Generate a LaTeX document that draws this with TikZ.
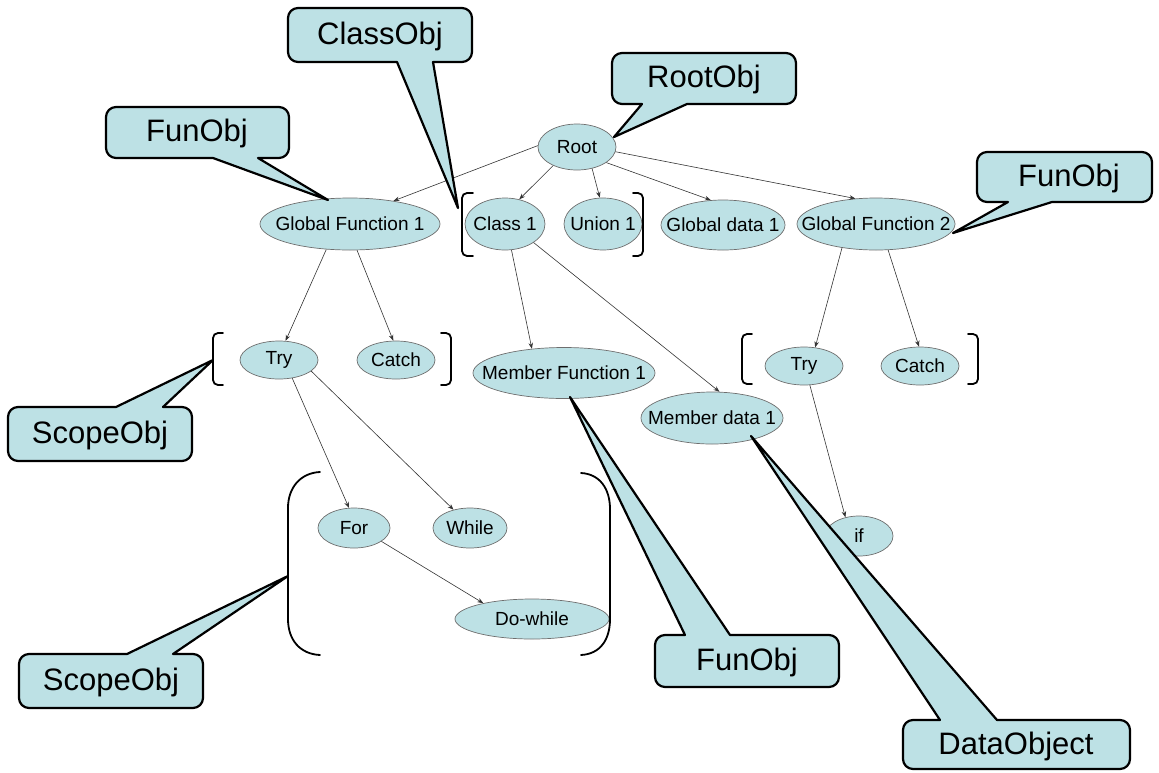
\documentclass[tikz,border=0pt]{standalone}
\usepackage{fontspec}
\setmainfont{Liberation Sans}
\usetikzlibrary{shapes.geometric,arrows.meta}

\definecolor{nodefill}{RGB}{189,225,229}
\definecolor{nodeline}{RGB}{110,110,110}

% label set in a zero-width box, so the ellipse keeps its given size
\newcommand\lbl[1]{\makebox[0pt]{#1}}

% rounded box with a wedge leaving its bottom edge
% #1,#2 top-left  #3,#4 bottom-right  #5,#6 wedge base  #7,#8 wedge tip
\newcommand\bubbledown[8]{%
  \filldraw[bubble] (#1+10,#2) -- (#3-10,#2) arc[start angle=270,end angle=360,radius=10]
    -- (#3,#4-10) arc[start angle=0,end angle=90,radius=10]
    -- (#6,#4) -- (#7,#8) -- (#5,#4)
    -- (#1+10,#4) arc[start angle=90,end angle=180,radius=10]
    -- (#1,#2+10) arc[start angle=180,end angle=270,radius=10] -- cycle;}
% rounded box with a wedge leaving its top edge
\newcommand\bubbleup[8]{%
  \filldraw[bubble] (#1+10,#2) -- (#5,#2) -- (#7,#8) -- (#6,#2)
    -- (#3-10,#2) arc[start angle=270,end angle=360,radius=10]
    -- (#3,#4-10) arc[start angle=0,end angle=90,radius=10]
    -- (#1+10,#4) arc[start angle=90,end angle=180,radius=10]
    -- (#1,#2+10) arc[start angle=180,end angle=270,radius=10] -- cycle;}

\tikzset{
  item/.style={ellipse, fill=nodefill, draw=nodeline, line width=0.7pt,
    inner sep=0pt, font=\fontsize{19}{22}\selectfont},
  bubble/.style={fill=nodefill, draw=black, line width=2.2pt, line join=round},
  bubbletext/.style={inner sep=0pt, font=\fontsize{31}{36}\selectfont},
  link/.style={-{Stealth[length=6pt,width=4.5pt]}, line width=0.6pt, draw=black!80},
  brace/.style={draw=black, line width=1.8pt, line cap=round},
}

\begin{document}
\begin{tikzpicture}[x=1pt,y=-1pt]
\useasboundingbox (0,0) rectangle (1159,772);

% tree nodes
\node[item, minimum width=78pt,  minimum height=46pt] (root)    at (577,147) {\lbl{Root}};
\node[item, minimum width=180pt, minimum height=52pt] (gf1)     at (350,224) {\lbl{Global Function 1}};
\node[item, minimum width=80pt,  minimum height=52pt] (class1)  at (505,224) {\lbl{Class 1}};
\node[item, minimum width=78pt,  minimum height=52pt] (union1)  at (603,224) {\lbl{Union 1}};
\node[item, minimum width=124pt, minimum height=50pt] (gd1)     at (723,225) {\lbl{Global data 1}};
\node[item, minimum width=158pt, minimum height=52pt] (gf2)     at (876,224) {\lbl{Global Function 2}};
\node[item, minimum width=78pt,  minimum height=38pt] (try1)    at (279,360) {\lbl{Try}};
\node[item, minimum width=78pt,  minimum height=38pt] (catch1)  at (396,360) {\lbl{Catch}};
\node[item, minimum width=182pt, minimum height=51pt] (mf1)     at (564,373) {\lbl{Member Function 1}};
\node[item, minimum width=142pt, minimum height=52pt] (md1)     at (712,418) {\lbl{Member data 1}};
\node[item, minimum width=78pt,  minimum height=38pt] (try2)    at (804,366) {\lbl{Try}};
\node[item, minimum width=78pt,  minimum height=38pt] (catch2)  at (920,366) {\lbl{Catch}};
\node[item, minimum width=72pt,  minimum height=40pt] (for)     at (354,528) {\lbl{For}};
\node[item, minimum width=74pt,  minimum height=40pt] (while)   at (470,528) {\lbl{While}};
\node[item, minimum width=154pt, minimum height=40pt] (dowhile) at (532,619) {\lbl{Do-while}};
\node[item, minimum width=68pt,  minimum height=40pt] (if)      at (859,536) {\lbl{if}};

% tree edges
\draw[link] (root.178)   -- (gf1.28);
\draw[link] (root.218)   -- (class1.60);
\draw[link] (root.305)   -- (union1.97);
\draw[link] (root.332)   -- (gd1.116);
\draw[link] (root.353)   -- (gf2.129);
\draw[link] (gf1.227)    -- (try1.71);
\draw[link] (gf1.285)    -- (catch1.98);
\draw[link] (class1.284) -- (mf1.143);
\draw[link] (class1.327) -- (md1.74);
\draw[link] (gf2.215)    -- (try2.59);
\draw[link] (gf2.295)    -- (catch2.93);
\draw[link] (try1.306)   -- (for.104);
\draw[link] (try1.341)   -- (while.132);
\draw[link] (for.334)    -- (dowhile.162);
\draw[link] (try2.287)   -- (if.126);

% grouping brackets
\draw[brace, rounded corners=5] (473,193) -- (462,193) -- (462,256) -- (473,256);
\draw[brace, rounded corners=5] (633,193) -- (643,193) -- (643,256) -- (633,256);
\draw[brace, rounded corners=5] (223,333) -- (213,333) -- (213,385) -- (223,385);
\draw[brace, rounded corners=5] (441,333) -- (451,333) -- (451,385) -- (441,385);
\draw[brace, rounded corners=5] (752,334) -- (742,334) -- (742,384) -- (752,384);
\draw[brace, rounded corners=5] (968,334) -- (978,334) -- (978,384) -- (968,384);
\draw[brace] (320,472) .. controls (300,473) and (288,488) .. (288,508)
  -- (288,619) .. controls (288,640) and (300,654) .. (320,655);
\draw[brace] (581,473) .. controls (600,474) and (610,489) .. (610,509)
  -- (610,619) .. controls (610,640) and (600,654) .. (581,655);

% callouts
\bubbledown{288}{8}{472}{62}{397}{433}{458}{208}
\node[bubbletext] (classobj) at (380,36) {ClassObj};
\bubbledown{106}{107}{289}{158}{213}{258}{328}{200}
\node[bubbletext] (funobja) at (197,133) {FunObj};
\bubbledown{612}{53}{796}{104}{642}{687}{614}{137}
\node[bubbletext] (rootobj) at (704,79) {RootObj};
\bubbledown{977}{152}{1152}{202}{1008}{1052}{953}{233}
\node[bubbletext] (funobjb) at (1069,178) {FunObj};
\bubbleup{8}{407}{192}{461}{116}{163}{213}{360}
\node[bubbletext] (scopeobja) at (100,435) {ScopeObj};
\bubbleup{19}{654}{203}{708}{127}{173}{288}{576}
\node[bubbletext] (scopeobjb) at (111,682) {ScopeObj};
\bubbleup{655}{635}{839}{687}{685}{730}{570}{397}
\node[bubbletext] (funobjc) at (747,662) {FunObj};
\bubbleup{903}{720}{1130}{769}{940}{997}{751}{436}
\node[bubbletext] (dataobject) at (1016,746) {DataObject};
\end{tikzpicture}
\end{document}
